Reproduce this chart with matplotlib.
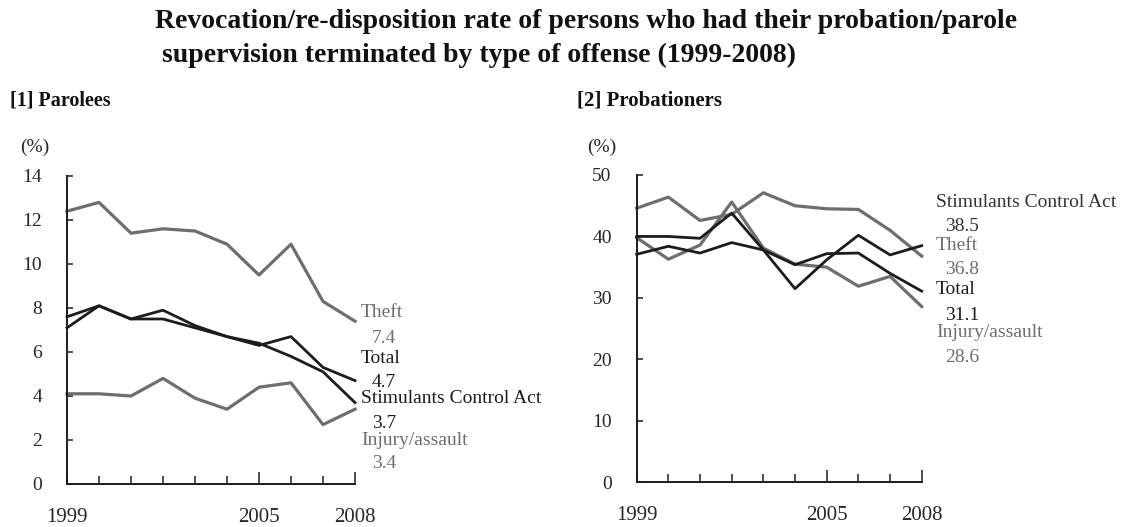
import matplotlib
matplotlib.use("Agg")
import matplotlib.pyplot as plt
from matplotlib.ticker import FixedLocator

plt.rcParams['font.family'] = ['Liberation Serif', 'DejaVu Serif']

years = list(range(1999, 2009))

# [1] Parolees (%)
parole_theft = [12.4, 12.8, 11.4, 11.6, 11.5, 10.9, 9.5, 10.9, 8.3, 7.4]
parole_total = [7.6, 8.1, 7.5, 7.5, 7.1, 6.7, 6.3, 6.7, 5.3, 4.7]
parole_stim = [7.1, 8.1, 7.5, 7.9, 7.2, 6.7, 6.4, 5.8, 5.1, 3.7]
parole_injury = [4.1, 4.1, 4.0, 4.8, 3.9, 3.4, 4.4, 4.6, 2.7, 3.4]

# [2] Probationers (%)
prob_stim = [40.0, 40.0, 39.7, 43.8, 37.8, 31.5, 36.2, 40.2, 37.0, 38.5]
prob_theft = [44.6, 46.4, 42.6, 43.6, 47.1, 45.0, 44.5, 44.4, 41.0, 36.8]
prob_total = [37.1, 38.4, 37.3, 39.0, 37.8, 35.4, 37.2, 37.3, 34.0, 31.1]
prob_injury = [39.8, 36.3, 38.6, 45.6, 38.1, 35.5, 35.0, 31.9, 33.5, 28.6]

BLACK = '#1c1c1c'
GRAY = '#6e6e6e'
TXT = '#262626'

fig = plt.figure(figsize=(11.22, 5.27), dpi=100)

fig.text(155 / 1122, 1 - 22 / 527,
         'Revocation/re-disposition rate of persons who had their probation/parole',
         fontsize=20, fontweight='bold', va='center', ha='left', color='#111111')
fig.text(162 / 1122, 1 - 55 / 527,
         'supervision terminated by type of offense (1999-2008)',
         fontsize=20, fontweight='bold', va='center', ha='left', color='#111111')


def setup_axes(ax, ymax, ystep):
    ax.set_xlim(years[0], years[-1])
    ax.set_ylim(0, ymax)
    for side in ('top', 'right'):
        ax.spines[side].set_visible(False)
    for side in ('left', 'bottom'):
        ax.spines[side].set_linewidth(1.4)
        ax.spines[side].set_color(BLACK)
    ax.set_yticks(range(0, ymax + 1, ystep))
    ax.xaxis.set_major_locator(FixedLocator([1999, 2005, 2008]))
    ax.xaxis.set_minor_locator(FixedLocator([y for y in years if y not in (1999, 2005, 2008)]))
    ax.set_xticklabels(['1999', '2005', '2008'])
    ax.tick_params(axis='y', direction='in', length=4.3, width=1.1, pad=18,
                   labelsize=14, colors=BLACK, labelcolor=TXT)
    ax.tick_params(axis='x', which='major', direction='in', length=8.5, width=1.1,
                   pad=17, labelsize=15, colors=BLACK, labelcolor=TXT)
    ax.tick_params(axis='x', which='minor', direction='in', length=5.8, width=1.1,
                   colors=BLACK)


def end_labels(ax, entries, x_name, x_val):
    for name, values, color, y_name, y_val in entries:
        ax.text(x_name, y_name, name, transform=ax.transAxes, fontsize=14,
                color=color, va='center', ha='left')
        ax.text(x_val, y_val, f'{values[-1]:.1f}', transform=ax.transAxes,
                fontsize=14, color=color, va='center', ha='left')


# Parolees
ax1 = fig.add_axes([67 / 1122, 1 - 484 / 527, 288 / 1122, 308 / 527])
setup_axes(ax1, 14, 2)
ax1.plot(years, parole_theft, color=GRAY, lw=2.3, clip_on=False)
ax1.plot(years, parole_injury, color=GRAY, lw=2.3, clip_on=False)
ax1.plot(years, parole_total, color=BLACK, lw=2.0, clip_on=False)
ax1.plot(years, parole_stim, color=BLACK, lw=2.0, clip_on=False)
end_labels(ax1, [
    ('Theft', parole_theft, GRAY, 0.558, 0.471),
    ('Total', parole_total, BLACK, 0.406, 0.331),
    ('Stimulants Control Act', parole_stim, BLACK, 0.276, 0.195),
    ('Injury/assault', parole_injury, GRAY, 0.140, 0.065),
], 1.021, 1.059)
fig.text(10 / 1122, 1 - 101 / 527, '[1] Parolees', fontsize=14.5,
         fontweight='bold', va='center', ha='left', color='#111111')
fig.text(35 / 1122, 1 - 147 / 527, '(%)', fontsize=14, va='center',
         ha='center', color=TXT)

# Probationers
ax2 = fig.add_axes([636.7 / 1122, 1 - 482.3 / 527, 285 / 1122, 307.3 / 527])
setup_axes(ax2, 50, 10)
ax2.plot(years, prob_theft, color=GRAY, lw=2.3, clip_on=False)
ax2.plot(years, prob_injury, color=GRAY, lw=2.3, clip_on=False)
ax2.plot(years, prob_stim, color=BLACK, lw=2.0, clip_on=False)
ax2.plot(years, prob_total, color=BLACK, lw=2.0, clip_on=False)
end_labels(ax2, [
    ('Stimulants Control Act', prob_stim, '#333333', 0.912, 0.834),
    ('Theft', prob_theft, GRAY, 0.772, 0.691),
    ('Total', prob_total, BLACK, 0.629, 0.544),
    ('Injury/assault', prob_injury, GRAY, 0.486, 0.405),
], 1.050, 1.082)
fig.text(577 / 1122, 1 - 101 / 527, '[2] Probationers', fontsize=15,
         fontweight='bold', va='center', ha='left', color='#111111')
fig.text(602 / 1122, 1 - 147 / 527, '(%)', fontsize=14, va='center',
         ha='center', color=TXT)

fig.savefig('out.png', dpi=100)
